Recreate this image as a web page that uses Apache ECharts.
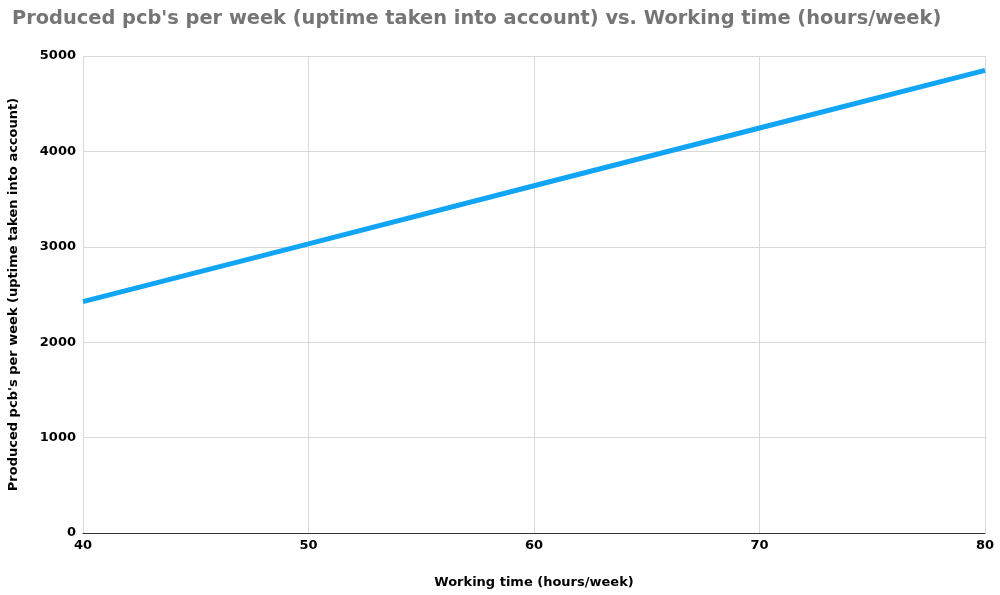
<!DOCTYPE html>
<html><head><meta charset="utf-8">
<script src="https://cdn.jsdelivr.net/npm/echarts@6/dist/echarts.min.js"></script>
<style>html,body{margin:0;padding:0;background:#fff}#c{width:1000px;height:595px}</style>
</head><body><div id="c"></div>
<script>
const titleText = "Produced pcb's per week (uptime taken into account) vs. Working time (hours/week)";
const xName = "Working time (hours/week)";
const yName = "Produced pcb's per week (uptime taken into account)";
const hours = [40, 50, 60, 70, 80];
const produced = [2425, 3030, 3640, 4245, 4850];

const FF = 'DejaVu Sans, sans-serif';
const chart = echarts.init(document.getElementById('c'));
const lbl = {color:'#000', fontWeight:'bold', fontSize:13, fontFamily:FF};
chart.setOption({
  animation:false,
  title:{text:titleText, left:7, top:4, textStyle:{color:'#757575', fontSize:19.4, fontWeight:'bold', fontFamily:FF}},
  grid:{left:83, right:15, top:56, bottom:62, outerBoundsMode:'none', containLabel:false},
  xAxis:{type:'value', min:40, max:80, interval:10, name:xName, nameLocation:'middle', nameGap:43,
    nameTextStyle:{color:'#000', fontWeight:'bold', fontSize:13, fontFamily:FF},
    axisLine:{show:true, lineStyle:{color:'#333', width:1}}, axisTick:{show:false},
    axisLabel:Object.assign({margin:6}, lbl),
    splitLine:{show:true, lineStyle:{color:'#d9d9d9'}}},
  yAxis:{type:'value', min:0, max:5000, interval:1000, name:yName, nameLocation:'middle', nameGap:63,
    nameTextStyle:{color:'#000', fontWeight:'bold', fontSize:13, fontFamily:FF},
    axisLine:{show:false}, axisTick:{show:false},
    axisLabel:Object.assign({margin:7, formatter:v=>String(v)}, lbl),
    splitLine:{show:true, lineStyle:{color:'#d9d9d9'}}},
  series:[{type:'line', data:hours.map((h,i)=>[h, produced[i]]), showSymbol:false, symbol:'none',
    lineStyle:{color:'#12a4f5', width:5}}]
});
</script></body></html>
